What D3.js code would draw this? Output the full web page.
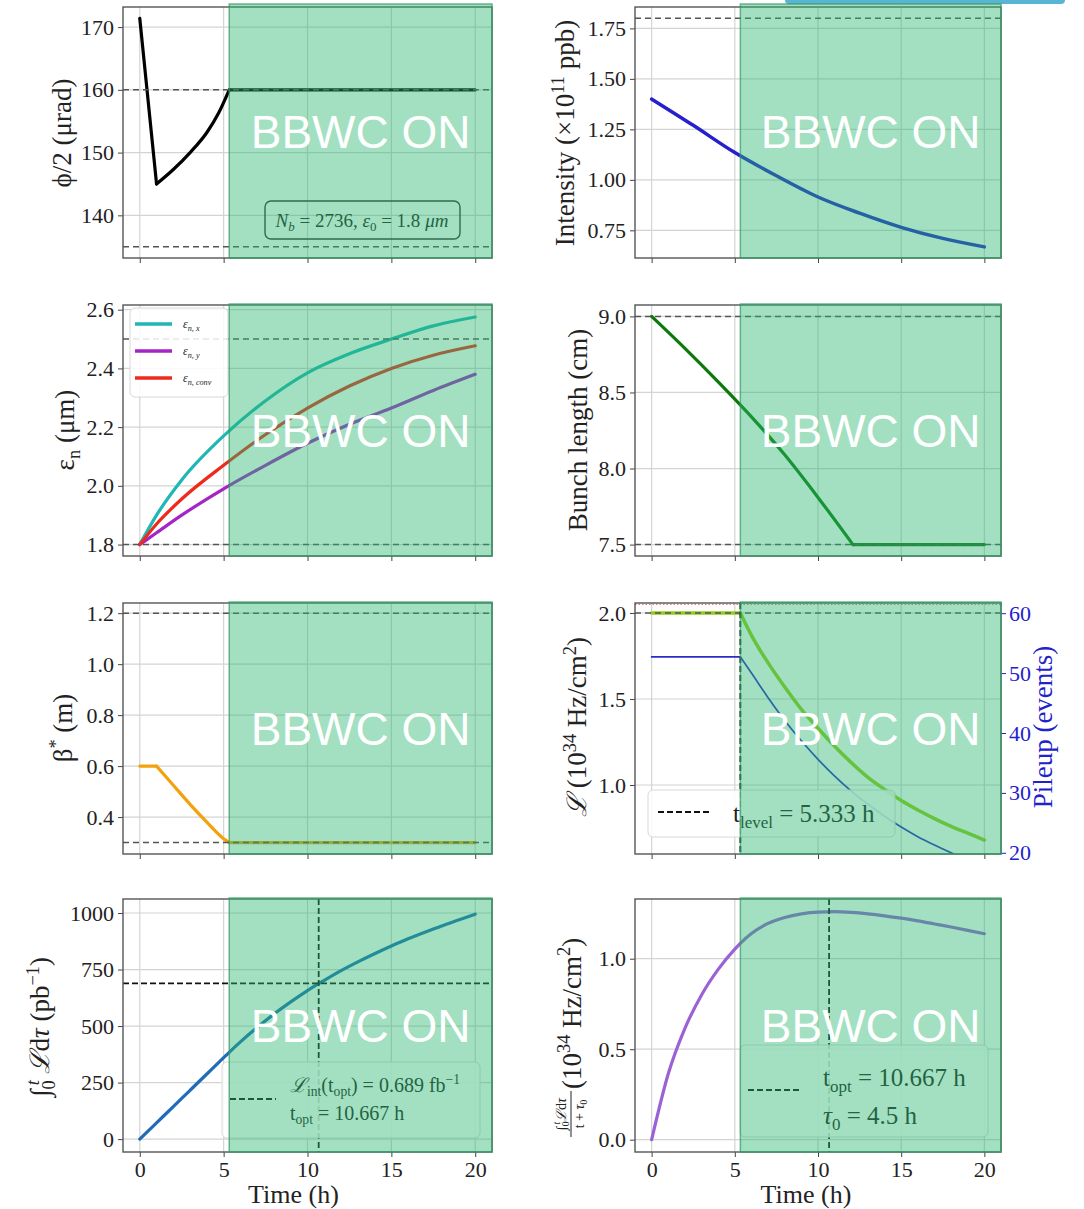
<!DOCTYPE html>
<html>
<head>
<meta charset="utf-8">
<script src="https://cdn.jsdelivr.net/npm/d3@7"></script>
<style>body{margin:0;background:#fff}</style>
</head>
<body>
<script>
// time axis
var timeTicks = [0, 5, 10, 15, 20];
var tLevel = 5.333, tOpt = 10.667;

// crossing angle
var phiTime = [0, 1, 2, 3, 4, 4.7, 5.333, 20];
var phiVals = [171.4, 145.0, 147.3, 150.0, 153.2, 156.3, 160.0, 160.0];
var phiRefs = [160, 135];

// intensity
var intTime = [0, 2.5, 5, 7.5, 10, 12.5, 15, 17.5, 20];
var intVals = [1.40, 1.27, 1.135, 1.02, 0.915, 0.835, 0.765, 0.71, 0.668];
var intRefs = [1.80];

// emittances
var emitTime = [0, 1, 2.5, 5, 7.5, 10, 12.5, 15, 17.5, 20];
var emitX = [1.8, 1.9, 2.02, 2.17, 2.29, 2.385, 2.45, 2.50, 2.545, 2.575];
var emitY = [1.8, 1.84, 1.90, 1.99, 2.07, 2.145, 2.21, 2.265, 2.325, 2.38];
var emitConv = [1.8, 1.87, 1.955, 2.07, 2.175, 2.265, 2.34, 2.40, 2.445, 2.477];
var emitRefs = [2.5, 1.8];
var emitNames = ["n, x", "n, y", "n, conv"];

// bunch length
var bunchTime = [0, 2, 4, 6, 8, 10, 12.1, 20];
var bunchVals = [9.0, 8.79, 8.57, 8.34, 8.09, 7.81, 7.5, 7.5];
var bunchRefs = [9.0, 7.5];

// beta*
var betaTime = [0, 1, 2, 3, 4, 5, 5.333, 20];
var betaVals = [0.6, 0.6, 0.525, 0.45, 0.38, 0.315, 0.30, 0.30];
var betaRefs = [1.2, 0.3];

// luminosity + pileup
var lumiTime = [0, 5.333, 6, 7, 8, 9, 10, 11, 12, 13, 14, 15, 16, 17, 18, 19, 20];
var lumiVals = [2.0, 2.0, 1.87, 1.71, 1.57, 1.44, 1.33, 1.225, 1.13, 1.045, 0.975, 0.91, 0.855, 0.805, 0.76, 0.72, 0.68];
var pileupVals = [52.7, 52.7, 50.0, 45.9, 42.1, 38.7, 35.6, 32.8, 30.3, 28.1, 26.1, 24.3, 22.7, 21.3, 20.0, 18.8, 17.7];
var lumiRef = 2.0, lumiMax = 2.05;

// integrated luminosity and average
var ilTime = [0, 1, 2, 3, 4, 5, 5.333, 6, 7, 8, 9, 10, 11, 12, 13, 14, 15, 16, 17, 18, 19, 20];
var ilVals = [0, 72, 144, 216, 288, 360, 384, 430, 494, 553, 607, 657, 702, 745, 784, 820, 854, 886, 915, 943, 969, 995];
var ilOpt = 689;
var avgVals = [0, 0.364, 0.615, 0.80, 0.941, 1.053, 1.085, 1.139, 1.195, 1.228, 1.248, 1.258, 1.260, 1.256, 1.248, 1.237, 1.224, 1.209, 1.192, 1.175, 1.157, 1.138];

var cols = [{l: 123, r: 492}, {l: 635, r: 1001}];
var rows = [{t: 7, b: 258}, {t: 305, b: 556}, {t: 603, b: 854}, {t: 899, b: 1152}];
var serif = '"Liberation Serif","DejaVu Serif",serif';

var svg = d3.select("body").append("svg").attr("width", 1084).attr("height", 1209);

// little browser-ui bar at the top
svg.append("rect").attr("x", 785).attr("y", -6).attr("width", 280).attr("height", 10)
  .attr("rx", 4).attr("fill", "#5ab4d4");

function rich(sel, parts, fs) {
  var cur = 0;
  parts.forEach(function(p) {
    if (typeof p === "string") p = [p, "n"];
    var off = p[1] === "sup" ? -0.4 * fs : p[1] === "sub" ? 0.22 * fs : 0;
    var t = sel.append("tspan").attr("dy", off - cur)
      .attr("font-size", p[1] === "n" ? fs : 0.68 * fs).text(p[0]);
    if (p[2]) t.attr("font-style", "italic");
    if (p[3]) t.attr("dx", p[3]);
    cur = off;
  });
}

function makePanel(col, row, yDomain, yTicks, yFmt) {
  var c = cols[col], r = rows[row];
  var x = d3.scaleLinear().domain([-1, 21]).range([c.l, c.r]);
  var y = d3.scaleLinear().domain(yDomain).range([r.b, r.t]);
  var g = svg.append("g");
  var id = "clip" + col + row;
  g.append("clipPath").attr("id", id).append("rect")
    .attr("x", c.l).attr("y", r.t).attr("width", c.r - c.l).attr("height", r.b - r.t);
  g.append("g").selectAll("line").data(timeTicks).join("line")
    .attr("x1", function(d) { return x(d); }).attr("x2", function(d) { return x(d); })
    .attr("y1", r.t).attr("y2", r.b).attr("stroke", "#d4d4d4").attr("stroke-width", 1.2);
  g.append("g").selectAll("line").data(yTicks).join("line")
    .attr("y1", function(d) { return y(d); }).attr("y2", function(d) { return y(d); })
    .attr("x1", c.l).attr("x2", c.r).attr("stroke", "#d4d4d4").attr("stroke-width", 1.2);
  var plot = g.append("g").attr("clip-path", "url(#" + id + ")");
  var ya = g.append("g").attr("transform", "translate(" + c.l + ",0)")
    .call(d3.axisLeft(y).tickValues(yTicks).tickFormat(yFmt).tickSize(5).tickPadding(4));
  var xa = g.append("g").attr("transform", "translate(0," + r.b + ")")
    .call(d3.axisBottom(x).tickValues(timeTicks).tickSize(5).tickPadding(4)
      .tickFormat(row === 3 ? d3.format("d") : function() { return ""; }));
  [ya, xa].forEach(function(a) {
    a.select(".domain").remove();
    a.selectAll("text").attr("font-family", serif).attr("font-size", 22).attr("fill", "#222");
    a.selectAll("line").attr("stroke", "#444");
  });
  return {x: x, y: y, g: g, plot: plot, c: c, r: r};
}

// draws a series as smooth pieces, split at the kink indices
function addLine(p, xs, ys, color, width, kinks, yScale) {
  var ysc = yScale || p.y;
  var line = d3.line().x(function(d) { return p.x(d[0]); }).y(function(d) { return ysc(d[1]); })
    .curve(d3.curveMonotoneX);
  var pts = d3.zip(xs, ys);
  var cuts = [0].concat(kinks || [], [pts.length - 1]);
  for (var i = 0; i < cuts.length - 1; i++) {
    p.plot.append("path").datum(pts.slice(cuts[i], cuts[i + 1] + 1)).attr("d", line)
      .attr("fill", "none").attr("stroke", color).attr("stroke-width", width)
      .attr("stroke-linejoin", "round").attr("stroke-linecap", "round");
  }
}

function addRefs(p, vals, color, dash, width) {
  p.plot.append("g").selectAll("line").data(vals).join("line")
    .attr("x1", p.c.l).attr("x2", p.c.r)
    .attr("y1", function(d) { return p.y(d); }).attr("y2", function(d) { return p.y(d); })
    .attr("stroke", color || "#555").attr("stroke-width", width || 1.5)
    .attr("stroke-dasharray", dash || "6,4");
}

function addVLine(p, v) {
  p.plot.append("line").attr("x1", p.x(v)).attr("x2", p.x(v))
    .attr("y1", p.r.t).attr("y2", p.r.b)
    .attr("stroke", "#111").attr("stroke-width", 1.8).attr("stroke-dasharray", "6,3");
}

function finish(p) {
  p.g.append("rect").attr("x", p.c.l).attr("y", p.r.t)
    .attr("width", p.c.r - p.c.l).attr("height", p.r.b - p.r.t)
    .attr("fill", "none").attr("stroke", "#555").attr("stroke-width", 1.4);
  var x0 = p.x(tLevel);
  var top = p.r.t - (p.r.t < 20 ? 3 : 1);
  p.g.append("rect").attr("x", x0).attr("y", top)
    .attr("width", p.c.r - x0).attr("height", p.r.b - top)
    .attr("fill", "#28b870").attr("fill-opacity", 0.43)
    .attr("stroke", "#2e9a5e").attr("stroke-opacity", 0.7).attr("stroke-width", 1.5);
  p.g.append("text").attr("x", (x0 + p.c.r) / 2).attr("y", (top + p.r.b) / 2 + 17)
    .attr("text-anchor", "middle").attr("font-family", '"Liberation Sans",Arial,sans-serif')
    .attr("font-size", 46).attr("fill", "#fff").text("BBWC ON");
}

function yLabel(cx, cy, parts, fs, color) {
  var t = svg.append("text")
    .attr("transform", "translate(" + cx + "," + cy + ") rotate(-90)")
    .attr("y", 0.35 * fs).attr("text-anchor", "middle")
    .attr("font-family", serif).attr("fill", color || "#222");
  rich(t, parts, fs);
  return t;
}

function legendBox(p, x, y, w, h) {
  p.g.append("rect").attr("x", x).attr("y", y).attr("width", w).attr("height", h)
    .attr("rx", 5).attr("fill", "#fff").attr("fill-opacity", 0.85)
    .attr("stroke", "#d8d8d8").attr("stroke-width", 1);
}

function legendText(p, x, y, parts, fs, anchor) {
  var t = p.g.append("text").attr("x", x).attr("y", y).attr("font-family", serif)
    .attr("fill", "#222").attr("text-anchor", anchor || "start");
  rich(t, parts, fs);
}

function dashSample(p, x1, x2, y) {
  p.g.append("line").attr("x1", x1).attr("x2", x2).attr("y1", y).attr("y2", y)
    .attr("stroke", "#111").attr("stroke-width", 2).attr("stroke-dasharray", "6,3");
}

// ---------- phi/2 ----------
var p1 = makePanel(0, 0, [133.2, 173.2], [140, 150, 160, 170], d3.format("d"));
addLine(p1, phiTime, phiVals, "#000", 3.2, [1, 6]);
addRefs(p1, phiRefs);
p1.g.append("rect").attr("x", 265).attr("y", 201).attr("width", 195).attr("height", 38)
  .attr("rx", 6).attr("fill", "none").attr("stroke", "#333").attr("stroke-width", 1.4);
legendText(p1, 362, 227, [["N", "n", true], ["b", "sub", true], " = 2736, ", ["ε", "n", true], ["0", "sub"], " = 1.8 ", ["μm", "n", true]], 19, "middle");
finish(p1);
yLabel(62, 133, ["ϕ/2 (μrad)"], 27);

// ---------- intensity ----------
var p2 = makePanel(1, 0, [0.613, 1.856], [0.75, 1.00, 1.25, 1.50, 1.75], d3.format(".2f"));
addLine(p2, intTime, intVals, "#2420cc", 3.5);
addRefs(p2, intRefs);
finish(p2);
yLabel(565, 133, ["Intensity (×10", ["11", "sup"], "  ppb)"], 27);

// ---------- emittance ----------
var p3 = makePanel(0, 1, [1.761, 2.616], [1.8, 2.0, 2.2, 2.4, 2.6], d3.format(".1f"));
var emitColors = ["#1fb6b6", "#a524c6", "#ee2b1b"];
addLine(p3, emitTime, emitX, emitColors[0], 3.2);
addLine(p3, emitTime, emitY, emitColors[1], 3.2);
addLine(p3, emitTime, emitConv, emitColors[2], 3.2);
addRefs(p3, emitRefs);
legendBox(p3, 130, 308, 98, 89);
emitNames.forEach(function(n, i) {
  var yy = 324 + i * 27;
  p3.g.append("line").attr("x1", 135).attr("x2", 172).attr("y1", yy).attr("y2", yy)
    .attr("stroke", emitColors[i]).attr("stroke-width", 3.5);
  legendText(p3, 183, yy + 4, [["ε", "n", true], [n, "sub", true]], 12);
});
finish(p3);
yLabel(65, 430, [["ε", "n"], ["n", "sub"], " (μm)"], 27);

// ---------- bunch length ----------
var p4 = makePanel(1, 1, [7.425, 9.075], [7.5, 8.0, 8.5, 9.0], d3.format(".1f"));
addLine(p4, bunchTime, bunchVals, "#0b7a0b", 3.2, [6]);
addRefs(p4, bunchRefs);
finish(p4);
yLabel(578, 430, ["Bunch length (cm)"], 27);

// ---------- beta* ----------
var p5 = makePanel(0, 2, [0.255, 1.24], [0.4, 0.6, 0.8, 1.0, 1.2], d3.format(".1f"));
addLine(p5, betaTime, betaVals, "#f2a20c", 3.2, [1, 6]);
addRefs(p5, betaRefs);
finish(p5);
yLabel(63, 728, ["β", ["*", "sup"], "  (m)"], 27);

// ---------- luminosity / pileup ----------
var p6 = makePanel(1, 2, [0.599, 2.058], [1.0, 1.5, 2.0], d3.format(".1f"));
var yPile = d3.scaleLinear().domain([19.8, 61.7]).range([p6.r.b, p6.r.t]);
addLine(p6, lumiTime, lumiVals, "#94cc1a", 3.5, [1]);
addLine(p6, lumiTime, pileupVals, "#2a2ad0", 1.7, [1], yPile);
addRefs(p6, [lumiRef]);
addRefs(p6, [lumiMax], "#e06a6a", "1.5,2", 1);
addVLine(p6, tLevel);
legendBox(p6, 648, 790, 247, 47);
dashSample(p6, 658, 712, 812);
legendText(p6, 733, 822, ["t", ["level", "sub"], " = 5.333 h"], 25);
var ra = p6.g.append("g").attr("transform", "translate(" + p6.c.r + ",0)")
  .call(d3.axisRight(yPile).tickValues([20, 30, 40, 50, 60]).tickSize(5).tickPadding(3));
ra.select(".domain").remove();
ra.selectAll("text").attr("font-family", serif).attr("font-size", 22).attr("fill", "#2222cc");
ra.selectAll("line").attr("stroke", "#2222cc");
finish(p6);
yLabel(577, 727, [["ℒ", "n", true], " (10", ["34", "sup"], "  Hz/cm", ["2", "sup"], ")"], 27);
yLabel(1043, 727, ["Pileup (events)"], 27, "#2222cc");

// ---------- integrated luminosity ----------
var p7 = makePanel(0, 3, [-57, 1062], [0, 250, 500, 750, 1000], d3.format("d"));
addLine(p7, ilTime, ilVals, "#1f6db8", 3.2);
addRefs(p7, [ilOpt], "#111", "6,3", 1.8);
addVLine(p7, tOpt);
legendBox(p7, 222, 1062, 258, 76);
dashSample(p7, 230, 276, 1099);
legendText(p7, 290, 1092, [["ℒ", "n", true], ["int", "sub"], "(t", ["opt", "sub"], ") = 0.689 fb", ["−1", "sup"]], 20);
legendText(p7, 290, 1120, ["t", ["opt", "sub"], " = 10.667 h"], 20);
finish(p7);
yLabel(40, 1027, ["∫", ["0", "sub", false, 0], ["t", "sup", true, -5], " ", ["ℒ", "n", true], "d", ["τ", "n", true], " (pb", ["−1", "sup"], ")"], 27);

// ---------- average luminosity ----------
var p8 = makePanel(1, 3, [-0.068, 1.33], [0.0, 0.5, 1.0], d3.format(".1f"));
addLine(p8, ilTime, avgVals, "#9a62d4", 3.2);
addVLine(p8, tOpt);
legendBox(p8, 740, 1045, 248, 92);
dashSample(p8, 748, 802, 1090);
legendText(p8, 823, 1086, ["t", ["opt", "sub"], " = 10.667 h"], 25);
legendText(p8, 823, 1124, [["τ", "n", true], ["0", "sub"], " = 4.5 h"], 25);
finish(p8);

// fraction y-label for the average luminosity
var fl = svg.append("g").attr("transform", "translate(572,1027) rotate(-90)")
  .attr("font-family", serif).attr("fill", "#222");
var num = fl.append("text").attr("x", -87).attr("y", -6).attr("text-anchor", "middle");
rich(num, ["∫", ["0", "sub"], ["t", "sup", true, -3], ["ℒ", "n", true], "d", ["τ", "n", true]], 14);
fl.append("line").attr("x1", -110).attr("x2", -64).attr("y1", -1).attr("y2", -1)
  .attr("stroke", "#222").attr("stroke-width", 1);
var den = fl.append("text").attr("x", -87).attr("y", 12).attr("text-anchor", "middle");
rich(den, ["t + ", ["τ", "n", true], ["0", "sub"]], 14);
var mt = fl.append("text").attr("x", -62).attr("y", 9);
rich(mt, ["(10", ["34", "sup"], "  Hz/cm", ["2", "sup"], ")"], 27);

// shared x labels
[cols[0], cols[1]].forEach(function(c) {
  svg.append("text").attr("x", (c.l + c.r) / 2 + (c === cols[0] ? -14 : -12)).attr("y", 1203)
    .attr("text-anchor", "middle").attr("font-family", serif).attr("font-size", 26)
    .attr("fill", "#222").text("Time (h)");
});
</script>
</body>
</html>
